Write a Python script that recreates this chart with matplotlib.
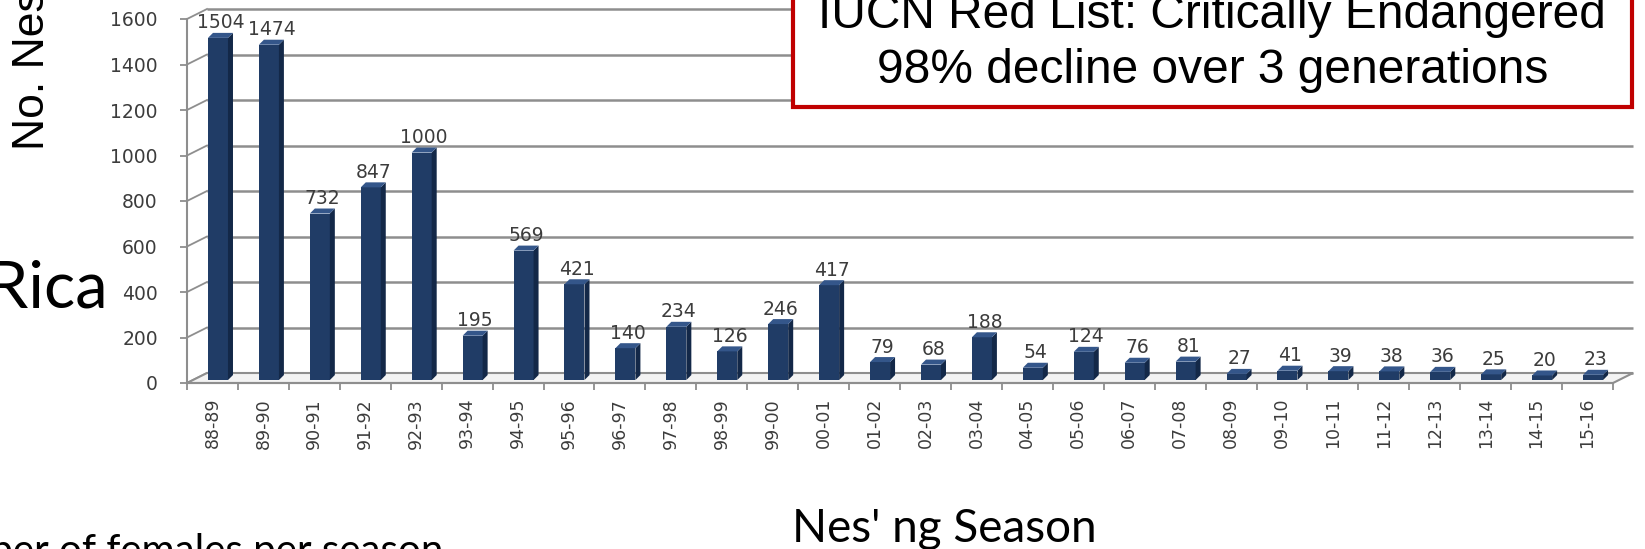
import matplotlib
matplotlib.use("Agg")
import matplotlib.pyplot as plt
from matplotlib import font_manager
from matplotlib.patches import Rectangle, Polygon

# nesting females per season
seasons = ["88-89", "89-90", "90-91", "91-92", "92-93", "93-94", "94-95",
           "95-96", "96-97", "97-98", "98-99", "99-00", "00-01", "01-02",
           "02-03", "03-04", "04-05", "05-06", "06-07", "07-08", "08-09",
           "09-10", "10-11", "11-12", "12-13", "13-14", "14-15", "15-16"]
females = [1504, 1474, 732, 847, 1000, 195, 569, 421, 140, 234, 126, 246,
           417, 79, 68, 188, 54, 124, 76, 81, 27, 41, 39, 38, 36, 25, 20, 23]
y_ticks = [0, 200, 400, 600, 800, 1000, 1200, 1400, 1600]

box_lines = ["IUCN Red List: Critically Endangered",
             "98% decline over 3 generations"]

W, H, DPI = 1645, 549, 100
fig = plt.figure(figsize=(W / DPI, H / DPI), dpi=DPI)
fig.patch.set_facecolor("white")

# plot area in pixels: front axis x 187..1613, y(0)=383, y(1600)=19 from top
ax = fig.add_axes([187 / W, (H - 383) / H, 1426 / W, 364 / H])
n = len(seasons)
ax.set_xlim(0, n)
ax.set_ylim(0, 1600)
ax.patch.set_visible(False)

px_x = n / 1426.0      # data units per pixel
px_y = 1600 / 364.0
DX, DY = 20 * px_x, 10 * px_y   # depth of the 3d floor

grid_c = "#8e8e8e"
txt_c = "#3c3c3c"

# back wall gridlines with the little diagonal joins
for v in y_ticks:
    ax.plot([DX, n + DX], [v + DY, v + DY], color=grid_c, lw=1.8,
            clip_on=False, zorder=1, solid_capstyle="butt")
    ax.plot([0, DX], [v, v + DY], color=grid_c, lw=1.3, clip_on=False, zorder=1)

# floor
floor = Polygon([(0, 0), (n, 0), (n + DX, DY), (DX, DY)], closed=True,
                facecolor="#f3f3f3", edgecolor=grid_c, lw=1.5, zorder=1.5,
                clip_on=False)
ax.add_patch(floor)

# bars (front face + side + top)
base = 13
face_w = 20 * px_x
sd_x, sd_y = 5 * px_x, 5 * px_y
lefts = [i + 0.412 for i in range(n)]
ax.bar(lefts, females, width=face_w, bottom=base, align="edge",
       color="#203c66", edgecolor="none", zorder=3, clip_on=False)
for x0, v in zip(lefts, females):
    x1 = x0 + face_w
    top = base + v
    ax.add_patch(Polygon([(x1, base), (x1 + sd_x, base + sd_y),
                          (x1 + sd_x, top + sd_y), (x1, top)],
                         closed=True, facecolor="#132848", edgecolor="none",
                         zorder=3, clip_on=False))
    ax.add_patch(Polygon([(x0, top), (x1, top), (x1 + sd_x, top + sd_y),
                          (x0 + sd_x, top + sd_y)],
                         closed=True, facecolor="#34568a", edgecolor="none",
                         zorder=3, clip_on=False))
    ax.annotate(str(v), (x0 + (face_w + sd_x) / 2, top), xytext=(0, 15),
                textcoords="offset pixels", ha="center", va="center",
                fontsize=13.5, color=txt_c, zorder=4, annotation_clip=False)

# axes, ticks
for s in ["top", "right"]:
    ax.spines[s].set_visible(False)
for s in ["left", "bottom"]:
    ax.spines[s].set_color(grid_c)
    ax.spines[s].set_linewidth(1.5)

ax.set_yticks(y_ticks)
ax.set_yticklabels([str(t) for t in y_ticks])
ax.tick_params(axis="y", length=5, width=1.3, color=grid_c, pad=16,
               labelsize=13.5, labelcolor=txt_c)

names = {f.name for f in font_manager.fontManager.ttflist}
if "Liberation Sans Narrow" in names:
    xfont = dict(family="Liberation Sans Narrow", size=16.5)
else:
    xfont = dict(family="DejaVu Sans", size=12.5)

ax.set_xticks([i + 0.5 for i in range(n)])
ax.set_xticklabels(seasons, rotation=90, color=txt_c, **xfont)
ax.set_xticks(range(n + 1), minor=True)
ax.tick_params(axis="x", which="major", length=0, pad=10.8)
ax.tick_params(axis="x", which="minor", length=5, width=1.3, color=grid_c)

# slide text around the chart
fig.text(33 / W, 1 - 150 / H, "No. Nesting Females", rotation=90,
         ha="center", va="bottom", fontsize=32, family="Liberation Sans",
         color="black")
fig.text(108 / W, 1 - 308 / H, "Costa Rica", ha="right", va="baseline",
         fontsize=47, family="Lato", color="black")
fig.text(443 / W, 1 - 563 / H, "Number of females per season", ha="right",
         va="baseline", fontsize=29, family="Lato", color="black")
fig.text(944 / W, 1 - 542 / H, "Nes' ng Season", ha="center",
         va="baseline", fontsize=33, family="Lato", color="black")

# red IUCN box
box = Rectangle((793 / W, 1 - 107 / H), (1632 - 793) / W, 140 / H,
                transform=fig.transFigure, facecolor="white",
                edgecolor="#c00000", lw=3, zorder=5, clip_on=False)
fig.add_artist(box)
fig.text(1212 / W, 1 - 28 / H, box_lines[0], ha="center", va="baseline",
         fontsize=34.5, family="Liberation Sans", color="black", zorder=6)
fig.text(1213 / W, 1 - 83 / H, box_lines[1], ha="center", va="baseline",
         fontsize=34.5, family="Liberation Sans", color="black", zorder=6)

fig.savefig("out.png", dpi=DPI)
